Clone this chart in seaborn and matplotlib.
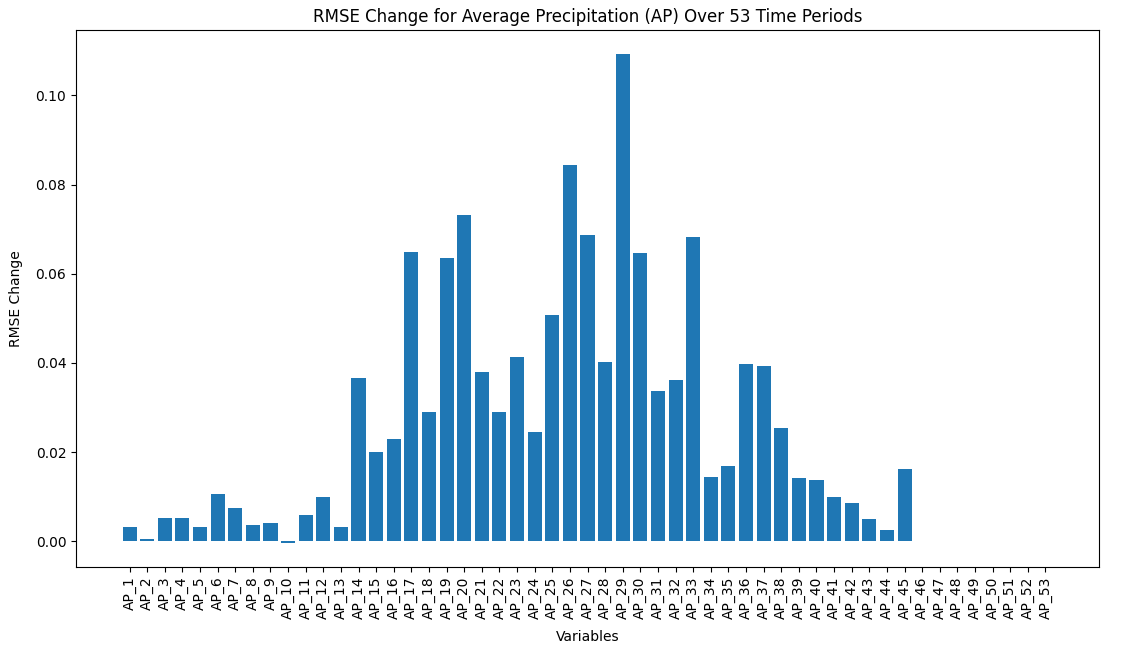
import matplotlib
matplotlib.use("Agg")
import matplotlib.pyplot as plt
import seaborn as sns
import pandas as pd

variables = [f"AP_{i}" for i in range(1, 54)]
rmse_change = [
    0.0032, 0.0006, 0.0052, 0.0052, 0.0033, 0.0105, 0.0074, 0.0037, 0.0040, -0.0003,
    0.0059, 0.0100, 0.0031, 0.0366, 0.0200, 0.0230, 0.0648, 0.0291, 0.0636, 0.0731,
    0.0379, 0.0291, 0.0414, 0.0246, 0.0508, 0.0844, 0.0686, 0.0402, 0.1092, 0.0646,
    0.0336, 0.0361, 0.0682, 0.0143, 0.0169, 0.0397, 0.0394, 0.0254, 0.0141, 0.0138,
    0.0100, 0.0085, 0.0049, 0.0026, 0.0161, 0.0, 0.0, 0.0, 0.0, 0.0,
    0.0, 0.0, 0.0,
]

df = pd.DataFrame({"Variables": variables, "RMSE Change": rmse_change})

fig, ax = plt.subplots(figsize=(11.31, 6.46), dpi=100)
fig.subplots_adjust(left=76/1131, right=1099/1131, top=1-30/646, bottom=1-567/646)

sns.barplot(data=df, x="Variables", y="RMSE Change", color="#1f77b4",
            saturation=1, width=0.8, ax=ax, errorbar=None)

n = len(variables)
span = (n - 1) + 0.8
ax.set_xlim(-0.4 - 0.05 * span, n - 1 + 0.4 + 0.05 * span)
ax.tick_params(axis="x", rotation=90)
ax.set_title("RMSE Change for Average Precipitation (AP) Over 53 Time Periods", fontsize=12)
ax.set_xlabel("Variables", labelpad=8)
ax.set_ylabel("RMSE Change", labelpad=9)

fig.savefig("out.png", dpi=100)
